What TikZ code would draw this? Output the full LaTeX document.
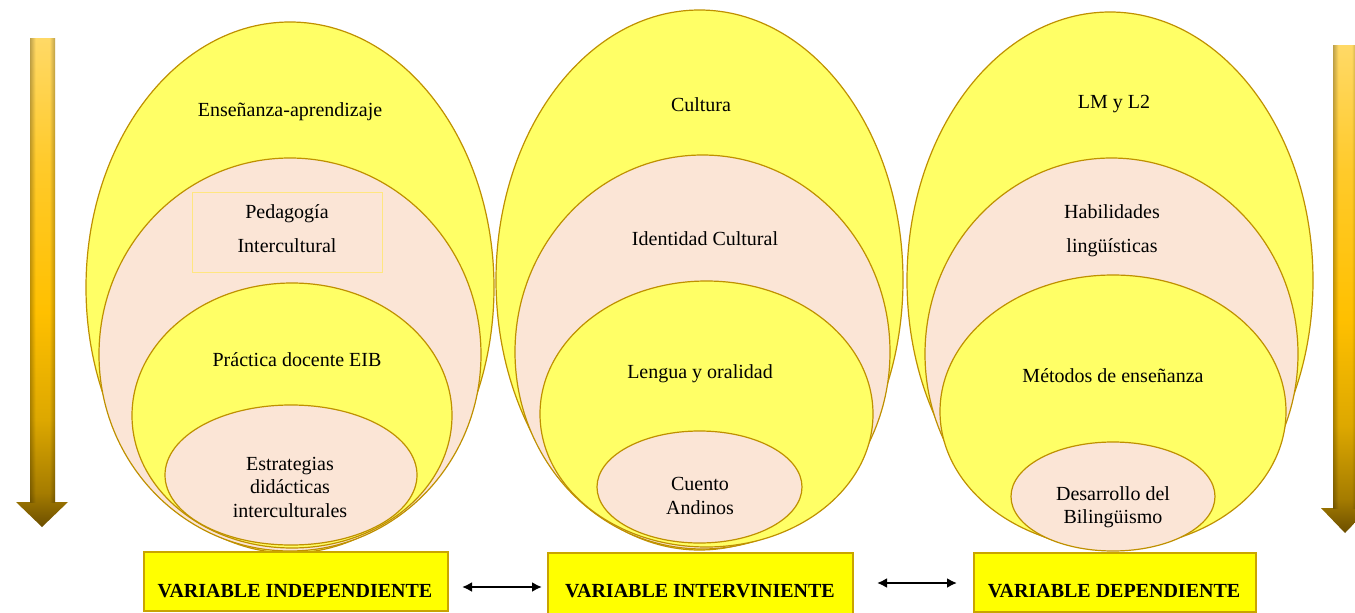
\documentclass[tikz,border=0pt]{standalone}
\usepackage{fontspec}
\setmainfont{Liberation Serif}
\usetikzlibrary{shapes.geometric,arrows.meta}

\definecolor{ovfill}{HTML}{FFFF66}
\definecolor{pkfill}{HTML}{FBE5D6}
\definecolor{rim}{HTML}{BF9000}
\definecolor{boxfill}{HTML}{FFFF00}
\definecolor{boxrim}{HTML}{C9A400}
\definecolor{faintrim}{HTML}{FFE680}
\definecolor{gA}{HTML}{6B4E00}
\definecolor{gB}{HTML}{A57C00}
\definecolor{gC}{HTML}{DDA800}
\definecolor{gD}{HTML}{FFC000}
\definecolor{gE}{HTML}{FFCA2A}
\definecolor{gF}{HTML}{FFD966}
\definecolor{edgeshade}{HTML}{BDBDBD}

% gold tube: dark at the point, bright gold in the middle, pale at the top
% (the path covers the 25bp--75bp band of the shading)
\pgfdeclareverticalshading{goldbar}{100bp}{%
  color(0bp)=(gA); color(25bp)=(gA); color(28.5bp)=(gB); color(36bp)=(gC);
  color(47bp)=(gD); color(62bp)=(gE); color(75bp)=(gF); color(100bp)=(gF)}
% darker rims across the tube
\pgfdeclarehorizontalshading{tuberim}{100bp}{%
  color(0bp)=(edgeshade); color(25bp)=(edgeshade); color(36bp)=(white);
  color(64bp)=(white); color(75bp)=(edgeshade); color(100bp)=(edgeshade)}

\begin{document}
\begin{tikzpicture}[x=1pt,y=-1pt,
  ring/.style={ellipse, draw=rim, line width=1.2pt, inner sep=0pt},
  yring/.style={ring, fill=ovfill},
  pring/.style={ring, fill=pkfill},
  lbl/.style={font=\fontsize{20}{23.5}\selectfont, align=center, inner sep=0pt},
  widelbl/.style={lbl, font=\fontsize{20}{34}\selectfont},
  varbox/.style={draw=boxrim, fill=boxfill, line width=1.2pt, inner sep=0pt},
  varlbl/.style={font=\fontsize{20}{24}\selectfont\bfseries, inner sep=0pt},
  link/.style={{Latex[length=10pt,width=10pt]}-{Latex[length=10pt,width=10pt]}, line width=2pt},
  goldarrow/.style={shading=goldbar},
  rimshade/.style={shading=tuberim, blend mode=multiply},
]
\useasboundingbox (0,0) rectangle (1355,613);

% golden downward arrows at both sides
\shade[goldarrow] (30,38) -- (55,38) -- (55,502) -- (68,502) -- (42,527)
  -- (16,502) -- (30,502) -- cycle;
\shade[rimshade] (30,38) rectangle (55,502);
\shade[goldarrow] (1333,45) -- (1357,45) -- (1357,508) -- (1369,508) -- (1345,533)
  -- (1321,508) -- (1333,508) -- cycle;
\shade[rimshade] (1333,45) rectangle (1357,508);

% independent variable: nested ellipses
\node[yring, minimum width=408pt, minimum height=531pt] (a1) at (290,287.5) {};
\node[pring, minimum width=382pt, minimum height=393pt] (a2) at (290,354.5) {};
\node[yring, minimum width=320pt, minimum height=265pt] (a3) at (292,415.5) {};
\node[pring, minimum width=252pt, minimum height=140pt] (a4) at (291,475) {};

% intervening variable: nested ellipses
\node[yring, minimum width=407pt, minimum height=540pt] (b1) at (699.5,280) {};
\node[pring, minimum width=375pt, minimum height=394pt] (b2) at (702.5,352) {};
\node[yring, minimum width=333pt, minimum height=266pt] (b3) at (706.5,414) {};
\node[pring, minimum width=205pt, minimum height=112pt] (b4) at (699.5,487) {};

% dependent variable: nested ellipses
\node[yring, minimum width=406pt, minimum height=537pt] (c1) at (1110,280.5) {};
\node[pring, minimum width=373pt, minimum height=392pt] (c2) at (1111.5,354) {};
\node[yring, minimum width=346pt, minimum height=273pt] (c3) at (1113,411.5) {};
\node[pring, minimum width=204pt, minimum height=109pt] (c4) at (1113,496.5) {};

% labels of the rings
\node[lbl] (ta1) at (290,112) {Enseñanza-aprendizaje};
\node[draw=faintrim, line width=0.6pt, minimum width=190pt, minimum height=80pt, inner sep=0pt] (pedbox) at (287,232) {};
\node[widelbl] (ta2) at (287,229) {Pedagogía\\Intercultural};
\node[lbl] (ta3) at (297,360) {Práctica docente EIB};
\node[lbl] (ta4) at (290,487) {Estrategias\\didácticas\\interculturales};

\node[lbl] (tb1) at (701,105) {Cultura};
\node[lbl] (tb2) at (705,239) {Identidad Cultural};
\node[lbl] (tb3) at (700,374) {Lengua y oralidad};
\node[lbl] (tb4) at (700,496) {Cuento\\Andinos};

\node[lbl] (tc1) at (1114,104) {LM y L2};
\node[widelbl] (tc2) at (1112,231) {Habilidades\\lingüísticas};
\node[lbl] (tc3) at (1113,376) {Métodos de enseñanza};
\begin{scope}
  \clip (1000,440) rectangle (1230,527);
  \node[lbl] (tc4) at (1113,507) {Desarrollo del\\Bilingüismo};
\end{scope}

% variable boxes
\node[varbox, minimum width=304pt, minimum height=59pt] (vi) at (296,581.5) {};
\node[varbox, minimum width=305pt, minimum height=62pt] (vv) at (700.5,584) {};
\node[varbox, minimum width=282pt, minimum height=59pt] (vd) at (1115,582.5) {};
\node[varlbl] (tvi) at (295,591) {VARIABLE INDEPENDIENTE};
\node[varlbl] (tvv) at (700,591) {VARIABLE INTERVINIENTE};
\node[varlbl] (tvd) at (1114,591) {VARIABLE DEPENDIENTE};

% links between the variables
\coordinate (l1a) at (462,587);
\coordinate (l1b) at (542,587);
\coordinate (l2a) at (877,583);
\coordinate (l2b) at (957,583);
\draw[link] (l1a) -- (l1b);
\draw[link] (l2a) -- (l2b);
\end{tikzpicture}
\end{document}
